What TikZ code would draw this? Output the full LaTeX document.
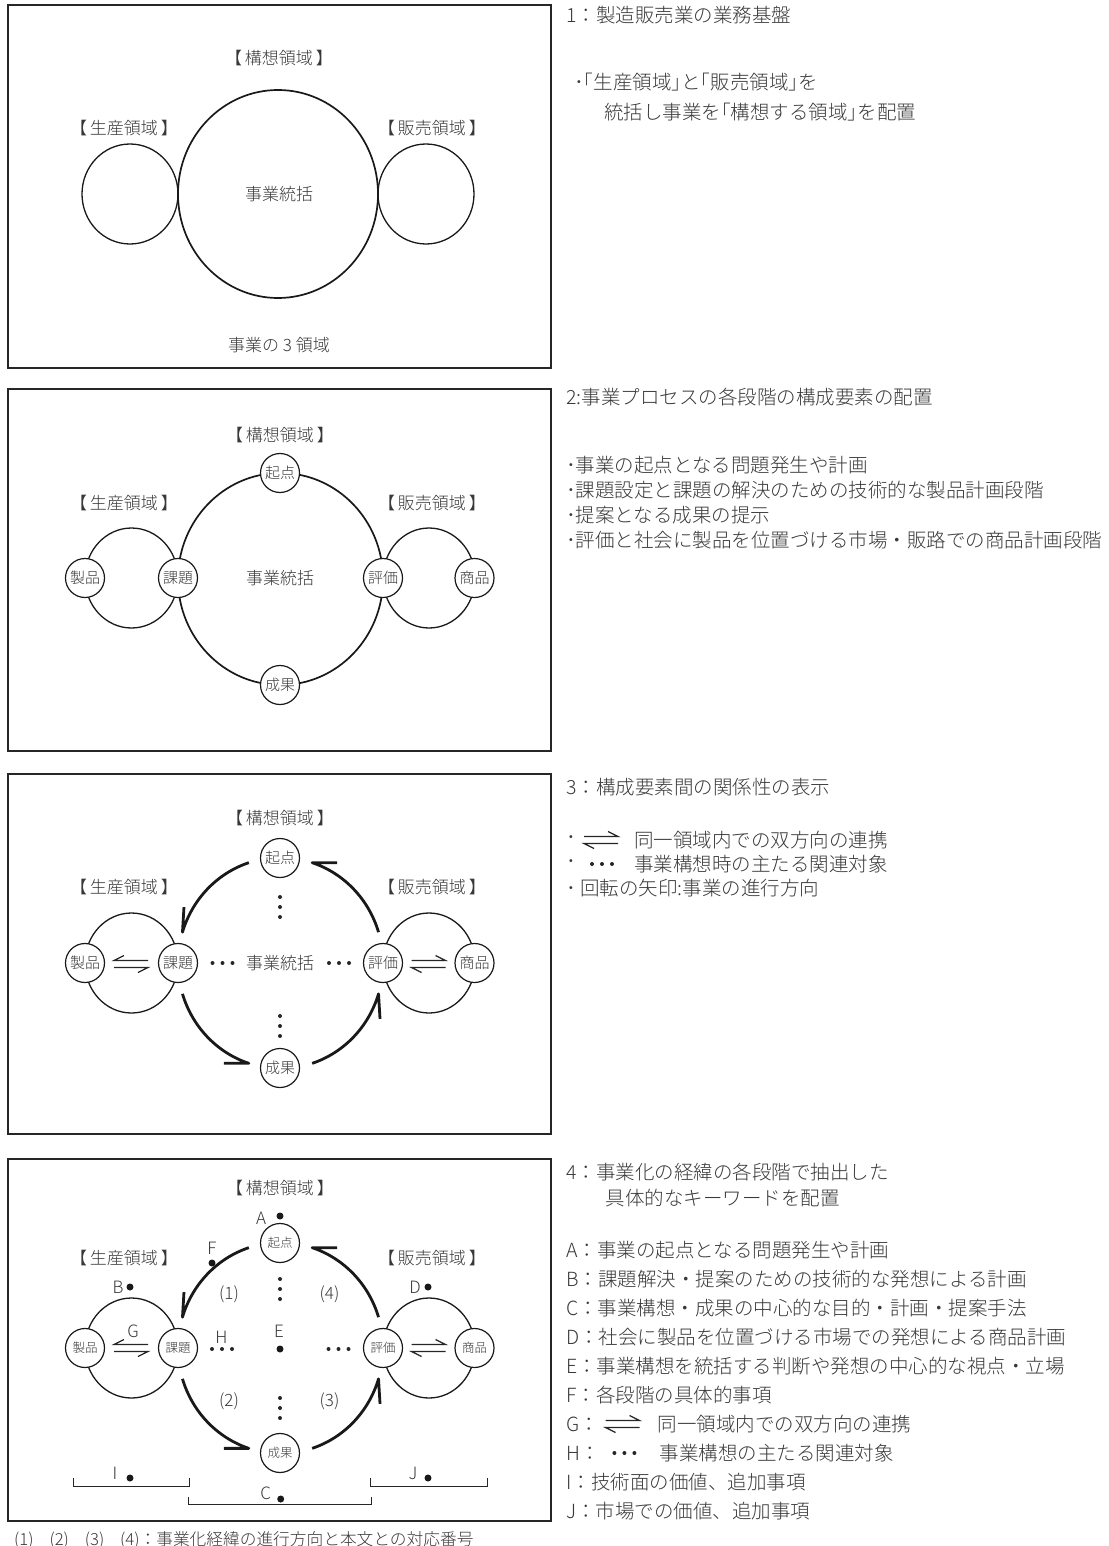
\documentclass[tikz,border=0pt]{standalone}
\usepackage{fontspec}
\IfFontExistsTF{Noto Sans CJK JP Light}
  {\setmainfont{Noto Sans CJK JP Light}}
  {\setmainfont{Noto Sans CJK JP}}
\usetikzlibrary{arrows.meta}

\tikzset{
  % harpoon pairs, dot rows and the rotation arrows
  rlharp/.pic={
    \draw[harp] (-17,-3.5) -- (17,-3.5) -- (7,-8.5);
    \draw[harp] (17,3.5) -- (-17,3.5) -- (-7,8.5);
  },
  lrharp/.pic={
    \draw[harp] (17,-3.5) -- (-17,-3.5) -- (-7,-8.5);
    \draw[harp] (-17,3.5) -- (17,3.5) -- (7,8.5);
  },
  hdots/.pic={\foreach \k in {-1,0,1} \fill[black!85] (10*\k,0) circle[radius=2pt];},
  vdots/.pic={\foreach \k in {-1,0,1} \fill[black!85] (0,10*\k) circle[radius=2pt];},
  turns/.pic={
    \draw[flow] (108:102.5pt and 105.5pt) arc[start angle=108,end angle=163,x radius=102.5pt,y radius=105.5pt] -- ++(1.5pt,25pt);
    \draw[flow] (17:102.5pt and 105.5pt) arc[start angle=17,end angle=72,x radius=102.5pt,y radius=105.5pt] -- ++(25pt,0pt);
    \draw[flow] (197:102.5pt and 105.5pt) arc[start angle=197,end angle=252,x radius=102.5pt,y radius=105.5pt] -- ++(-25pt,0pt);
    \draw[flow] (288:102.5pt and 105.5pt) arc[start angle=288,end angle=343,x radius=102.5pt,y radius=105.5pt] -- ++(1.5pt,-25pt);
  }
}

\begin{document}
\begin{tikzpicture}[
    x=1pt, y=-1pt,
    every node/.style={text=black!78},
    panel/.style={draw=black!85, line width=1.5pt},
    area/.style={draw=black!90, line width=1.3pt},
    hub/.style={draw=black!90, line width=1.7pt},
    stage/.style={circle, draw=black!90, fill=white, line width=1.2pt,
      minimum size=39pt, inner sep=0pt, font=\fontsize{15}{18}\selectfont},
    stagesm/.style={stage, font=\fontsize{12.5}{15}\selectfont},
    regionlbl/.style={inner sep=0pt, font=\fontsize{17}{20}\selectfont},
    note/.style={anchor=west, inner sep=0pt, font=\fontsize{19.5}{23}\selectfont},
    keylbl/.style={inner sep=0pt, font=\fontsize{17}{20}\selectfont},
    keydot/.style={circle, fill=black!90, inner sep=0pt, minimum size=7pt},
    flow/.style={draw=black!90, line width=2.8pt, line join=round},
    harp/.style={draw=black!85, line width=1.2pt},
    bracket/.style={draw=black!85, line width=1pt}
  ]
  \useasboundingbox (0,0) rectangle (1108,1546);

  % ---------- 1: three areas ----------
  \draw[panel] (8,5) rectangle (551,368);
  \coordinate (c1) at (278,194);
  \draw[hub] (c1) ellipse[x radius=100pt, y radius=104pt];
  \draw[area] (130,194) ellipse[x radius=48pt, y radius=50pt];
  \draw[area] (426,194) ellipse[x radius=48pt, y radius=50pt];
  \node[regionlbl] (plan1) at (279,58) {【\,構想領域\,】};
  \node[regionlbl] (make1) at (124,128) {【\,生産領域\,】};
  \node[regionlbl] (sell1) at (432,128) {【\,販売領域\,】};
  \node[regionlbl] (core1) at (279,194) {事業統括};
  \node[regionlbl] (cap1) at (279,345) {事業の 3 領域};

  \node[note] (n1a) at (566,15) {1：製造販売業の業務基盤};
  \node[note] (n1b) at (574,82) {･｢生産領域｣と｢販売領域｣を};
  \node[note] (n1c) at (604,112) {統括し事業を｢構想する領域｣を配置};

  % ---------- 2: stages ----------
  \draw[panel] (8,389) rectangle (551,751);
  \coordinate (c2) at (280.5,579);
  \draw[hub] (c2) ellipse[x radius=102.5pt, y radius=106pt];
  \draw[area] (131.5,578) ellipse[x radius=46.5pt, y radius=50pt];
  \draw[area] (429,578) ellipse[x radius=46pt, y radius=50pt];
  \node[regionlbl] (plan2) at (280,435) {【\,構想領域\,】};
  \node[regionlbl] (make2) at (124,503) {【\,生産領域\,】};
  \node[regionlbl] (sell2) at (432,503) {【\,販売領域\,】};
  \node[regionlbl] (core2) at (280,578) {事業統括};
  \node[stage] (start2) at (280,473) {起点};
  \node[stage] (result2) at (280,685) {成果};
  \node[stage] (task2) at (178,578) {課題};
  \node[stage] (eval2) at (383,578) {評価};
  \node[stage] (prod2) at (85,578) {製品};
  \node[stage] (goods2) at (474.5,578) {商品};

  \node[note] (n2a) at (566,397) {2:事業プロセスの各段階の構成要素の配置};
  \node[note] (n2b) at (566,465) {･事業の起点となる問題発生や計画};
  \node[note] (n2c) at (566,490) {･課題設定と課題の解決のための技術的な製品計画段階};
  \node[note] (n2d) at (566,515) {･提案となる成果の提示};
  \node[note] (n2e) at (566,540) {･評価と社会に製品を位置づける市場・販路での商品計画段階};

  % ---------- 3: relations ----------
  \draw[panel] (8,774) rectangle (551,1134);
  \coordinate (c3) at (280.5,963);
  \draw[area] (131.5,963) ellipse[x radius=46.5pt, y radius=50pt];
  \draw[area] (429,963) ellipse[x radius=46pt, y radius=50pt];
  \node[regionlbl] (plan3) at (280,818) {【\,構想領域\,】};
  \node[regionlbl] (make3) at (124,887) {【\,生産領域\,】};
  \node[regionlbl] (sell3) at (432,887) {【\,販売領域\,】};
  \node[regionlbl] (core3) at (280,963) {事業統括};
  \node[stage] (start3) at (280,858) {起点};
  \node[stage] (result3) at (280,1068) {成果};
  \node[stage] (task3) at (178,963) {課題};
  \node[stage] (eval3) at (383,963) {評価};
  \node[stage] (prod3) at (85,963) {製品};
  \node[stage] (goods3) at (474.5,963) {商品};
  \pic at (c3) {turns};
  \pic at (131,964) {lrharp};
  \pic at (428.5,964) {rlharp};
  \pic at (280,907) {vdots};
  \pic at (280,1026) {vdots};
  \pic at (222.5,963) {hdots};
  \pic at (339,963) {hdots};

  \node[note] (n3a) at (566,787) {3：構成要素間の関係性の表示};
  \node[note] (n3b) at (566,840) {･};
  \pic at (601,840) {rlharp};
  \node[note] (n3b2) at (634,840) {同一領域内での双方向の連携};
  \node[note] (n3c) at (566,864) {･};
  \pic at (602,864) {hdots};
  \node[note] (n3c2) at (634,864) {事業構想時の主たる関連対象};
  \node[note] (n3d) at (566,888) {･ 回転の矢印:事業の進行方向};

  % ---------- 4: keywords ----------
  \draw[panel] (8,1159) rectangle (551,1521);
  \coordinate (c4) at (280.5,1348);
  \draw[area] (131.5,1348) ellipse[x radius=46.5pt, y radius=50pt];
  \draw[area] (429,1348) ellipse[x radius=46pt, y radius=50pt];
  \node[regionlbl] (plan4) at (280,1188) {【\,構想領域\,】};
  \node[regionlbl] (make4) at (124,1258) {【\,生産領域\,】};
  \node[regionlbl] (sell4) at (432,1258) {【\,販売領域\,】};
  \node[stagesm] (start4) at (280,1243) {起点};
  \node[stagesm] (result4) at (280,1453) {成果};
  \node[stagesm] (task4) at (178,1348) {課題};
  \node[stagesm] (eval4) at (383,1348) {評価};
  \node[stagesm] (prod4) at (85,1348) {製品};
  \node[stagesm] (goods4) at (474.5,1348) {商品};
  \pic at (c4) {turns};
  \pic at (131,1348) {lrharp};
  \pic at (428.5,1348) {rlharp};
  \pic at (280,1289) {vdots};
  \pic at (280,1408) {vdots};
  \pic at (222,1349) {hdots};
  \pic at (338.5,1349) {hdots};

  % key letters and dots
  \node[keylbl] (ka) at (261,1218) {A};
  \node[keydot] (da) at (280,1216) {};
  \node[keylbl] (kf) at (212,1248) {F};
  \node[keydot] (df) at (212,1263) {};
  \node[keylbl] (kb) at (118,1287) {B};
  \node[keydot] (db) at (130,1287) {};
  \node[keylbl] (kd) at (415,1287) {D};
  \node[keydot] (dd) at (428,1287) {};
  \node[keylbl] (kg) at (133,1331) {G};
  \node[keylbl] (kh) at (221.5,1337) {H};
  \node[keylbl] (ke) at (279,1331) {E};
  \node[keydot] (de) at (280,1349) {};
  \node[keylbl] (st1) at (229,1294) {(1)};
  \node[keylbl] (st4) at (329.5,1294) {(4)};
  \node[keylbl] (st2) at (229,1401) {(2)};
  \node[keylbl] (st3) at (329.5,1401) {(3)};

  % brackets I, J, C
  \draw[bracket] (73,1478) -- (73,1486) -- (189.5,1486) -- (189.5,1478);
  \draw[bracket] (370,1478) -- (370,1486) -- (487,1486) -- (487,1478);
  \draw[bracket] (188,1497) -- (188,1504) -- (371.5,1504) -- (371.5,1497);
  \node[keylbl] (ki) at (115,1473) {I};
  \node[keydot] (di) at (130,1478) {};
  \node[keylbl] (kj) at (413,1473) {J};
  \node[keydot] (dj) at (428,1478) {};
  \node[keylbl] (kc) at (265.6,1493) {C};
  \node[keydot] (dc) at (280.7,1499) {};

  \node[anchor=west, inner sep=0pt, font=\fontsize{16.7}{20}\selectfont] (cap4) at (14,1540)
    {(1)\hspace{0.95em}(2)\hspace{0.95em}(3)\hspace{0.95em}(4)：事業化経緯の進行方向と本文との対応番号};

  \node[note] (n4a) at (566,1172) {4：事業化の経緯の各段階で抽出した};
  \node[note] (n4b) at (605.6,1198) {具体的なキーワードを配置};
  \node[note] (n4A) at (566,1250) {A：事業の起点となる問題発生や計画};
  \node[note] (n4B) at (566,1279) {B：課題解決・提案のための技術的な発想による計画};
  \node[note] (n4C) at (566,1308) {C：事業構想・成果の中心的な目的・計画・提案手法};
  \node[note] (n4D) at (566,1337) {D：社会に製品を位置づける市場での発想による商品計画};
  \node[note] (n4E) at (566,1366) {E：事業構想を統括する判断や発想の中心的な視点・立場};
  \node[note] (n4F) at (566,1395) {F：各段階の具体的事項};
  \node[note] (n4G) at (566,1424) {G：};
  \pic at (622.6,1424) {rlharp};
  \node[note] (n4G2) at (657.7,1424) {同一領域内での双方向の連携};
  \node[note] (n4H) at (566,1453) {H：};
  \pic at (624.4,1453) {hdots};
  \node[note] (n4H2) at (659.5,1453) {事業構想の主たる関連対象};
  \node[note] (n4I) at (566,1482) {I：技術面の価値、追加事項};
  \node[note] (n4J) at (566,1511) {J：市場での価値、追加事項};

\end{tikzpicture}
\end{document}
